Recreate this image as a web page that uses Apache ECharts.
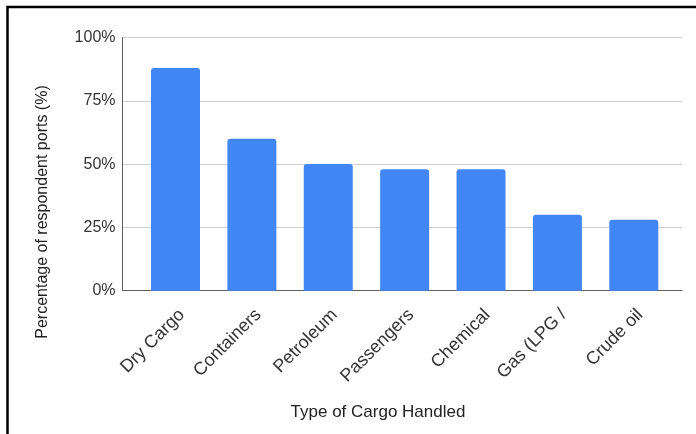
<!DOCTYPE html>
<html>
<head>
<meta charset="utf-8">
<title>Type of Cargo Handled</title>
<script src="https://cdn.jsdelivr.net/npm/echarts@6/dist/echarts.min.js"></script>
<style>
  html, body { margin: 0; padding: 0; background: #ffffff; }
  #chart { width: 696px; height: 434px; }
</style>
</head>
<body>
<div id="chart"></div>
<script>
// Cargo categories and the share of ports handling each (%)
const categories = ['Dry Cargo', 'Containers', 'Petroleum', 'Passengers', 'Chemical', 'Gas (LPG /', 'Crude oil'];
const shareOfPorts = [88, 60, 50, 48, 48, 30, 28];
const yTicks = [0, 25, 50, 75, 100];

const FONT = '"Liberation Sans", Arial, sans-serif';
const TEXT = '#333333';

const chart = echarts.init(document.getElementById('chart'), null, { renderer: 'canvas' });

const plotTop = 37.5;
const plotBottom = 143.3;

chart.setOption({
  backgroundColor: '#ffffff',
  animation: false,
  grid: [
    // frame grid: gridlines and axis lines span the full plot width
    { left: 122.5, right: 14, top: plotTop, bottom: plotBottom },
    // bar grid: categories sit inset from the axis ends
    { left: 137.3, right: 24, top: plotTop, bottom: plotBottom }
  ],
  xAxis: [
    {
      gridIndex: 0, type: 'value', min: 0, max: 1,
      axisLine: { show: true, lineStyle: { color: '#5f5f5f', width: 1 } },
      axisTick: { show: false }, axisLabel: { show: false }, splitLine: { show: false }
    },
    {
      gridIndex: 1, type: 'category', data: categories,
      axisLine: { show: false }, axisTick: { show: false },
      axisLabel: {
        rotate: 45, margin: 15, interval: 0, verticalAlign: 'top',
        fontFamily: FONT, fontSize: 18, color: TEXT
      }
    }
  ],
  yAxis: [
    {
      gridIndex: 0, type: 'value', min: yTicks[0], max: yTicks[yTicks.length - 1], interval: 25,
      axisLine: { show: true, lineStyle: { color: '#5f5f5f', width: 1 } },
      axisTick: { show: false },
      axisLabel: {
        margin: 7, fontFamily: FONT, fontSize: 16, color: TEXT,
        formatter: v => v + '%'
      },
      splitLine: { show: true, lineStyle: { color: '#d0d0d0', width: 1 } }
    },
    { gridIndex: 1, type: 'value', min: 0, max: 100, show: false }
  ],
  series: [
    {
      type: 'bar',
      xAxisIndex: 1, yAxisIndex: 1,
      data: shareOfPorts,
      barWidth: 49,
      itemStyle: { color: '#4285f4', borderRadius: [3, 3, 0, 0] }
    }
  ],
  graphic: [
    {
      type: 'rect', silent: true,
      shape: { x: 7.5, y: 7, width: 720, height: 460 },
      style: { fill: 'none', stroke: '#000000', lineWidth: 2.5 }
    },
    {
      type: 'text', x: 43, y: 212, rotation: Math.PI / 2,
      style: {
        text: 'Percentage of respondent ports (%)',
        font: '16px ' + FONT, fill: '#222222',
        align: 'center', verticalAlign: 'middle'
      }
    },
    {
      type: 'text', x: 378, y: 412,
      style: {
        text: 'Type of Cargo Handled',
        font: '17px ' + FONT, fill: '#222222',
        align: 'center', verticalAlign: 'middle'
      }
    }
  ]
});
</script>
</body>
</html>
